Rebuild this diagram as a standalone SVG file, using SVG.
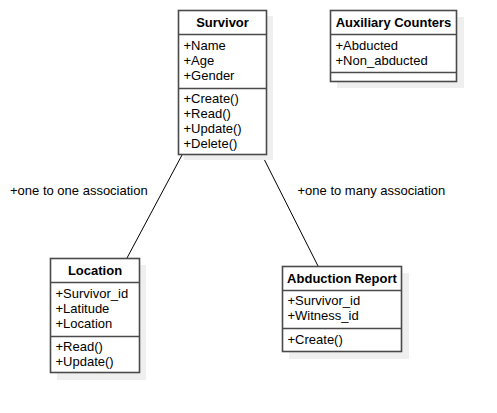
<svg xmlns="http://www.w3.org/2000/svg" width="497" height="413" viewBox="0 0 497 413">
<style>
text{font-family:"Liberation Sans",Arial,sans-serif;font-size:13px;fill:#000}
.t{font-weight:bold;text-anchor:middle}
.box{fill:#fff;stroke:#4a4a4a;stroke-width:1.6}
.sh{fill:#efefef;stroke:none}
.sep{stroke:#4a4a4a;stroke-width:1.6}
.c{stroke:#000;stroke-width:1;fill:none}
</style>
<rect width="497" height="413" fill="#fff"/>
<g id="connectors">
<line class="c" x1="182" y1="155" x2="127" y2="258"/>
<line class="c" x1="262" y1="155" x2="318" y2="266"/>
<text x="10" y="195">+one to one association</text>
<text x="297.5" y="195">+one to many association</text>
</g>
<g id="survivor">
<rect class="sh" x="184" y="16" width="89" height="144"/>
<rect class="box" x="178.5" y="10.5" width="88" height="144"/>
<line class="sep" x1="178.5" y1="34.5" x2="266.5" y2="34.5"/>
<line class="sep" x1="178.5" y1="88.5" x2="266.5" y2="88.5"/>
<text class="t" x="222.5" y="26.5">Survivor</text>
<text x="183.5" y="49.5">+Name</text>
<text x="183.5" y="64.5">+Age</text>
<text x="183.5" y="79.5">+Gender</text>
<text x="183.5" y="102.5">+Create()</text>
<text x="183.5" y="117.5">+Read()</text>
<text x="183.5" y="132.5">+Update()</text>
<text x="183.5" y="147.5">+Delete()</text>
</g>
<g id="auxiliary">
<rect class="sh" x="337" y="17" width="127" height="71"/>
<rect class="box" x="330.5" y="10.5" width="126" height="71"/>
<line class="sep" x1="330.5" y1="34.5" x2="456.5" y2="34.5"/>
<line class="sep" x1="330.5" y1="72.5" x2="456.5" y2="72.5"/>
<text class="t" x="393.5" y="26.5">Auxiliary Counters</text>
<text x="335.5" y="49.5">+Abducted</text>
<text x="335.5" y="64.5">+Non_abducted</text>
</g>
<g id="location">
<rect class="sh" x="57" y="265" width="89" height="115"/>
<rect class="box" x="50.5" y="258.5" width="89" height="114"/>
<line class="sep" x1="50.5" y1="282.5" x2="139.5" y2="282.5"/>
<line class="sep" x1="50.5" y1="336.5" x2="139.5" y2="336.5"/>
<text class="t" x="95" y="274.5">Location</text>
<text x="55.5" y="297.5">+Survivor_id</text>
<text x="55.5" y="312.5">+Latitude</text>
<text x="55.5" y="327.5">+Location</text>
<text x="55.5" y="350.5">+Read()</text>
<text x="55.5" y="365.5">+Update()</text>
</g>
<g id="abduction">
<rect class="sh" x="289" y="273" width="120" height="86"/>
<rect class="box" x="282.5" y="266.5" width="119" height="85"/>
<line class="sep" x1="282.5" y1="290.5" x2="401.5" y2="290.5"/>
<line class="sep" x1="282.5" y1="328.5" x2="401.5" y2="328.5"/>
<text class="t" x="342" y="282.5">Abduction Report</text>
<text x="287.5" y="305">+Survivor_id</text>
<text x="287.5" y="320">+Witness_id</text>
<text x="287.5" y="343.5">+Create()</text>
</g>
</svg>
